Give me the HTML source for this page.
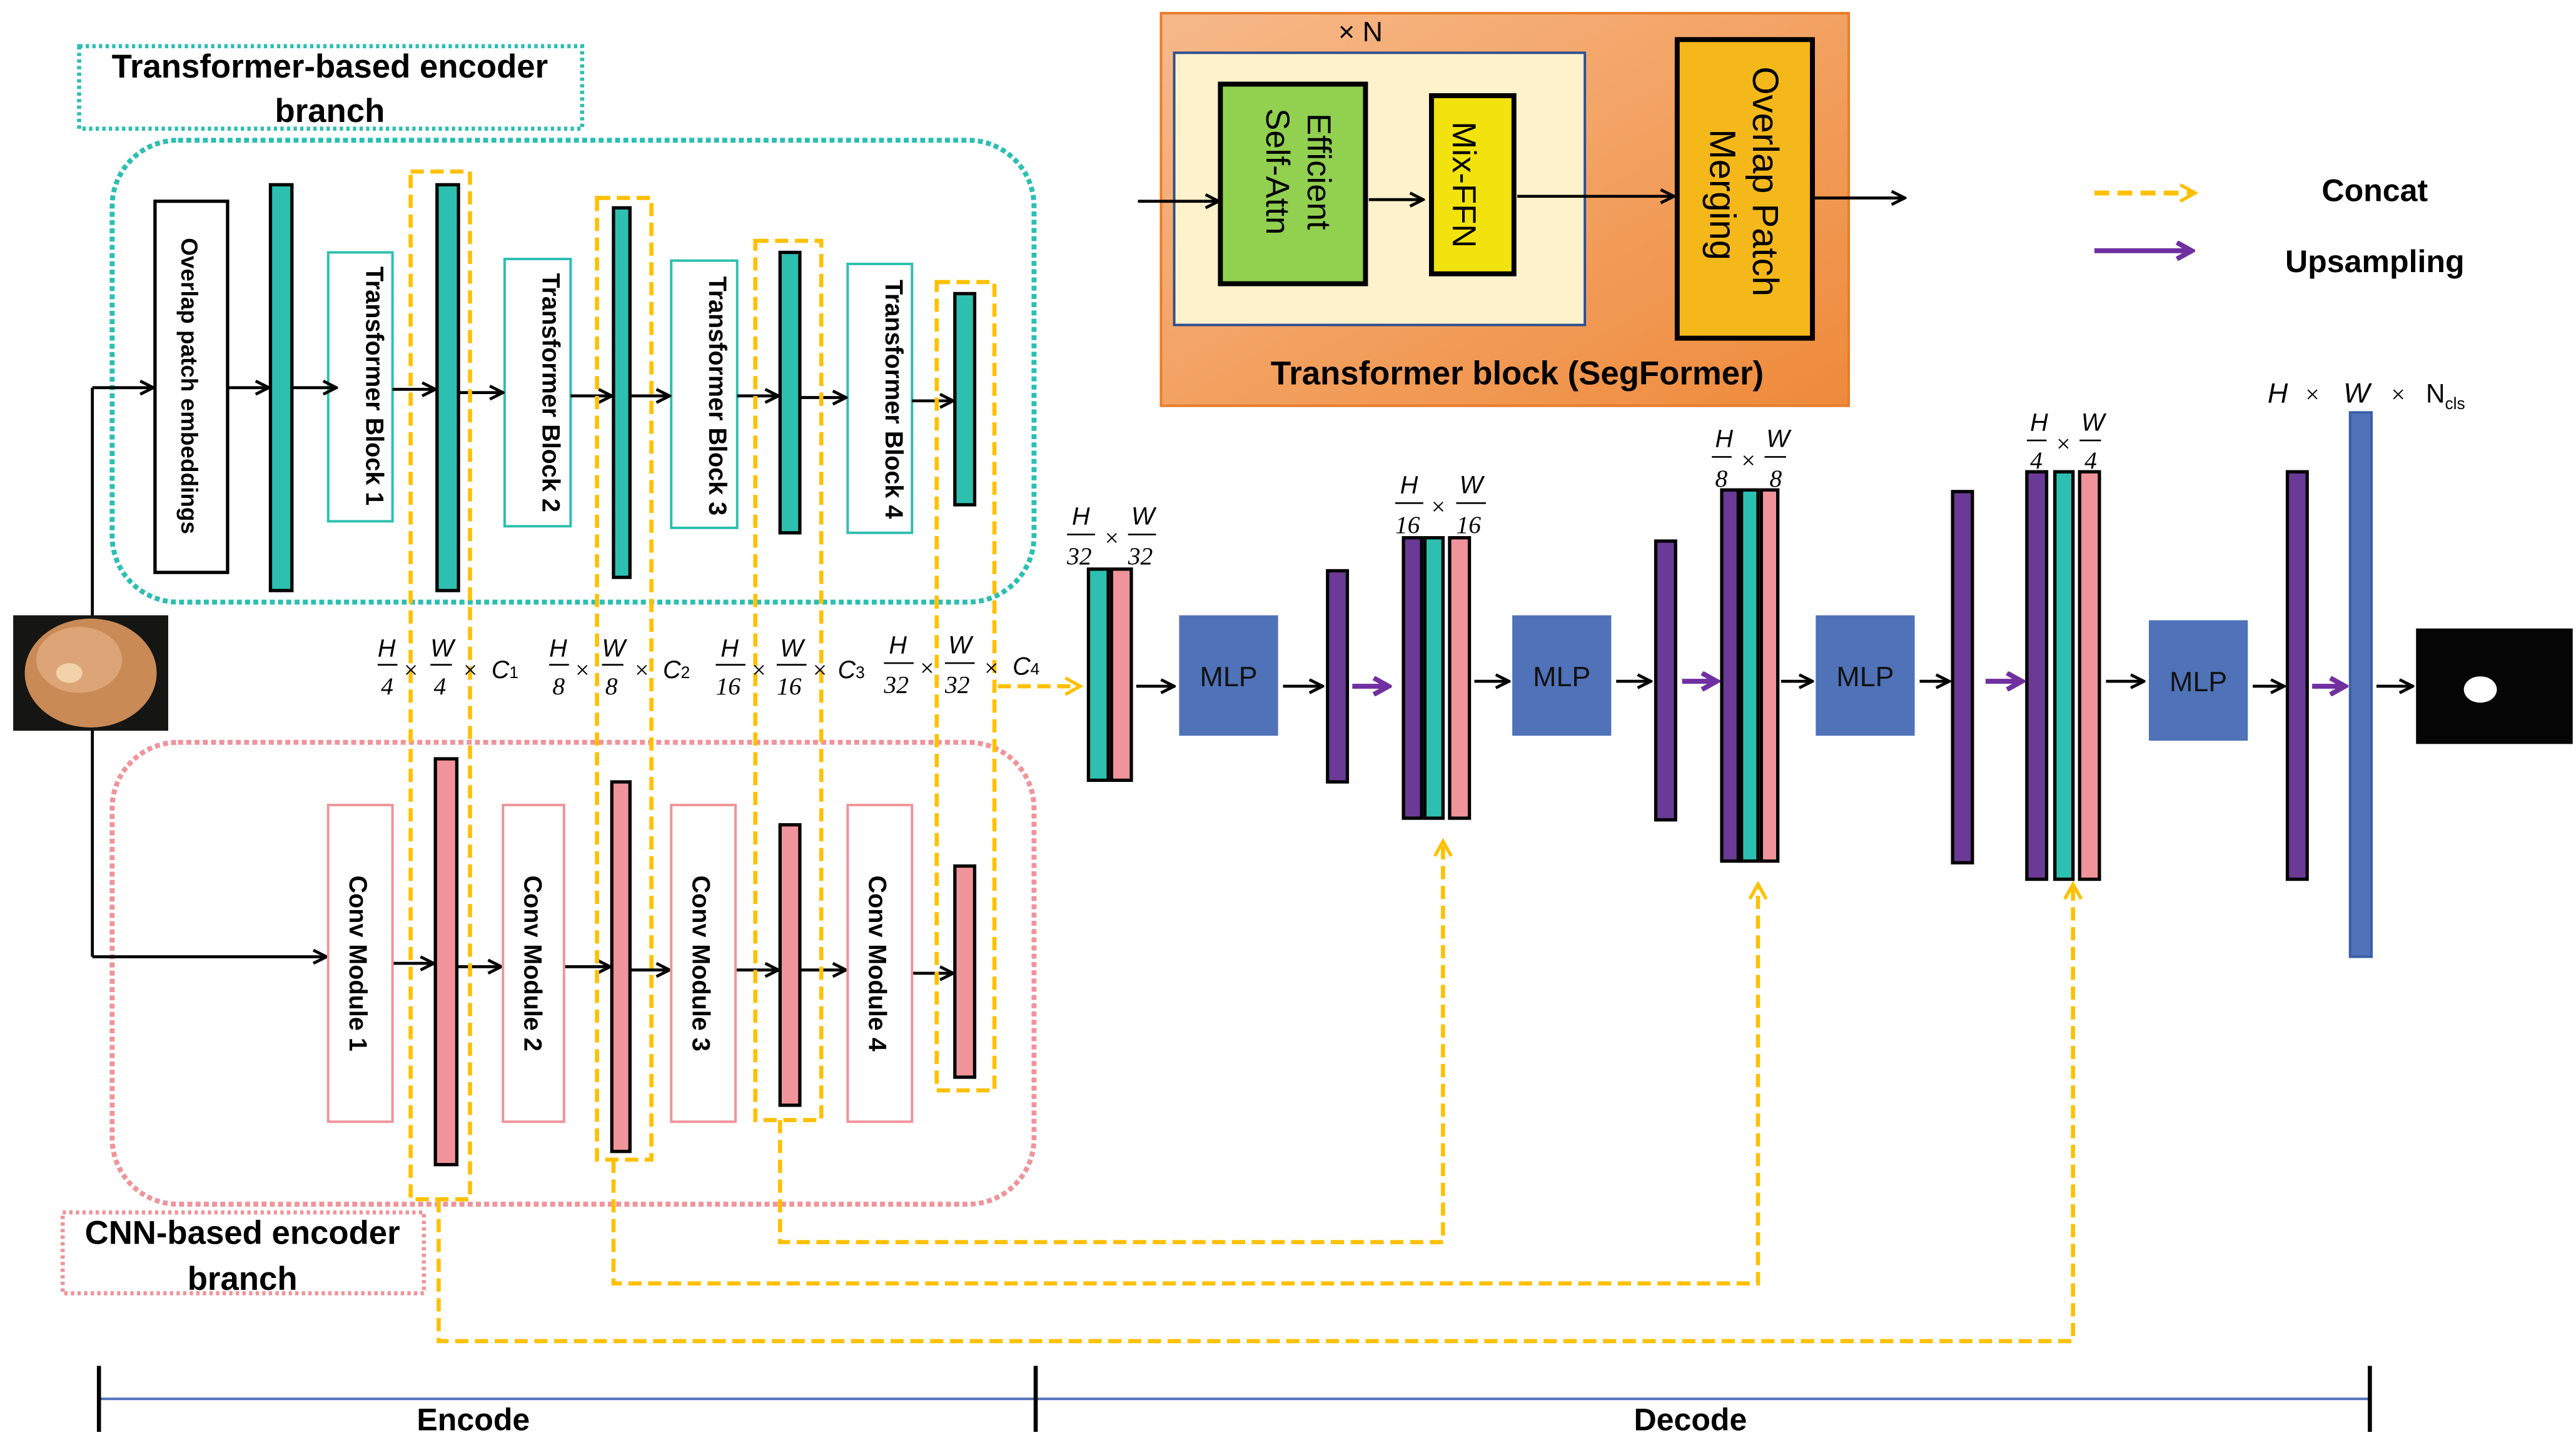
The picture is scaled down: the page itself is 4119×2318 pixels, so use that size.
<!DOCTYPE html>
<html><head><meta charset="utf-8"><style>
html,body{margin:0;padding:0;background:#fff;}
svg{display:block;}
text{font-family:"Liberation Sans",sans-serif;}
.b{font-weight:bold;}
.m{font-family:"Liberation Serif",serif;font-style:italic;font-size:15px;}
.n{font-family:"Liberation Serif",serif;font-size:15px;}
</style></head><body>
<svg width="4119" height="2318" viewBox="0 0 1562 879" preserveAspectRatio="none" xmlns="http://www.w3.org/2000/svg">
<defs>
<marker id="ak" markerWidth="10" markerHeight="10" refX="9" refY="5" orient="auto" markerUnits="userSpaceOnUse"><path d="M1,1 L9,5 L1,9" fill="none" stroke="#000" stroke-width="1.8"/></marker>
<marker id="ay" markerWidth="12" markerHeight="12" refX="10" refY="6" orient="auto" markerUnits="userSpaceOnUse"><path d="M1,1 L10,6 L1,11" fill="none" stroke="#ffc000" stroke-width="2"/></marker>
<marker id="ap" markerWidth="12" markerHeight="12" refX="10" refY="6" orient="auto" markerUnits="userSpaceOnUse"><path d="M1,1 L10,6 L1,11" fill="none" stroke="#7030a0" stroke-width="3"/></marker>
<linearGradient id="og" x1="0" y1="0" x2="1" y2="1"><stop offset="0" stop-color="#f7b98a"/><stop offset="1" stop-color="#ee8a3a"/></linearGradient>
</defs>

<!-- Encoder title -->
<rect x="48" y="28" width="305" height="50" fill="none" stroke="#2bbfb2" stroke-width="2.5" stroke-dasharray="2,2"/>
<text x="200" y="47" font-size="20" class="b" text-anchor="middle">Transformer-based encoder</text>
<text x="200" y="74" font-size="20" class="b" text-anchor="middle">branch</text>

<rect x="68" y="85" width="559" height="280" rx="40" fill="none" stroke="#2bbfb2" stroke-width="3" stroke-dasharray="3,2"/>
<rect x="68" y="450" width="559" height="280" rx="40" fill="none" stroke="#f0939a" stroke-width="3" stroke-dasharray="3,2"/>

<!-- transformer branch -->
<rect x="94" y="122" width="44" height="225" fill="#fff" stroke="#000" stroke-width="2"/>
<text transform="translate(110,234) rotate(90)" font-size="14" class="b" text-anchor="middle">Overlap patch embeddings</text>
<rect x="164" y="112" width="13" height="246" fill="#2dbfb0" stroke="#000" stroke-width="2"/>
<rect x="199" y="153" width="39" height="163" fill="#fff" stroke="#2dbfb0" stroke-width="1.5"/>
<text transform="translate(222,234) rotate(90)" font-size="15" class="b" text-anchor="middle">Transformer Block 1</text>
<rect x="265" y="112" width="13" height="246" fill="#2dbfb0" stroke="#000" stroke-width="2"/>
<rect x="306" y="157" width="40" height="162" fill="#fff" stroke="#2dbfb0" stroke-width="1.5"/>
<text transform="translate(329,238) rotate(90)" font-size="15" class="b" text-anchor="middle">Transformer Block 2</text>
<rect x="372" y="126" width="10" height="224" fill="#2dbfb0" stroke="#000" stroke-width="2"/>
<rect x="407" y="158" width="40" height="162" fill="#fff" stroke="#2dbfb0" stroke-width="1.5"/>
<text transform="translate(430,240) rotate(90)" font-size="15" class="b" text-anchor="middle">Transformer Block 3</text>
<rect x="473" y="153" width="12" height="170" fill="#2dbfb0" stroke="#000" stroke-width="2"/>
<rect x="514" y="160" width="39" height="163" fill="#fff" stroke="#2dbfb0" stroke-width="1.5"/>
<text transform="translate(537,242) rotate(90)" font-size="15" class="b" text-anchor="middle">Transformer Block 4</text>
<rect x="579" y="178" width="12" height="128" fill="#2dbfb0" stroke="#000" stroke-width="2"/>

<g stroke="#000" stroke-width="1.8" marker-end="url(#ak)">
<line x1="56" y1="235" x2="93" y2="235"/>
<line x1="138" y1="235" x2="163" y2="235"/>
<line x1="177" y1="235" x2="204" y2="235"/>
<line x1="238" y1="236" x2="264" y2="236"/>
<line x1="278" y1="238" x2="305" y2="238"/>
<line x1="346" y1="240" x2="371" y2="240"/>
<line x1="382" y1="240" x2="406" y2="240"/>
<line x1="447" y1="240" x2="472" y2="240"/>
<line x1="485" y1="241" x2="513" y2="241"/>
<line x1="553" y1="243" x2="578" y2="243"/>
<line x1="56" y1="580" x2="198" y2="580"/>
<line x1="238" y1="584" x2="263" y2="584"/>
<line x1="277" y1="586" x2="304" y2="586"/>
<line x1="342" y1="586" x2="370" y2="586"/>
<line x1="382" y1="588" x2="406" y2="588"/>
<line x1="446" y1="588" x2="472" y2="588"/>
<line x1="485" y1="588" x2="513" y2="588"/>
<line x1="553" y1="590" x2="578" y2="590"/>
</g>
<line x1="56" y1="235" x2="56" y2="580" stroke="#000" stroke-width="1.8"/>

<!-- input image -->
<rect x="8" y="373" width="94" height="70" fill="#151513"/>
<ellipse cx="55" cy="408" rx="40" ry="33" fill="#c98a55"/>
<ellipse cx="48" cy="400" rx="26" ry="20" fill="#dca477"/>
<ellipse cx="42" cy="408" rx="8" ry="6" fill="#f2d2a8"/>

<!-- CNN branch -->
<rect x="199" y="488" width="39" height="192" fill="#fff" stroke="#f0939a" stroke-width="1.5"/>
<text transform="translate(212,584) rotate(90)" font-size="15" class="b" text-anchor="middle">Conv Module 1</text>
<rect x="264" y="460" width="13" height="246" fill="#f0939a" stroke="#000" stroke-width="2"/>
<rect x="305" y="488" width="37" height="192" fill="#fff" stroke="#f0939a" stroke-width="1.5"/>
<text transform="translate(318,584) rotate(90)" font-size="15" class="b" text-anchor="middle">Conv Module 2</text>
<rect x="371" y="474" width="11" height="224" fill="#f0939a" stroke="#000" stroke-width="2"/>
<rect x="407" y="488" width="39" height="192" fill="#fff" stroke="#f0939a" stroke-width="1.5"/>
<text transform="translate(420,584) rotate(90)" font-size="15" class="b" text-anchor="middle">Conv Module 3</text>
<rect x="473" y="500" width="12" height="170" fill="#f0939a" stroke="#000" stroke-width="2"/>
<rect x="514" y="488" width="39" height="192" fill="#fff" stroke="#f0939a" stroke-width="1.5"/>
<text transform="translate(527,584) rotate(90)" font-size="15" class="b" text-anchor="middle">Conv Module 4</text>
<rect x="579" y="525" width="12" height="128" fill="#f0939a" stroke="#000" stroke-width="2"/>

<rect x="38" y="735" width="219" height="49" fill="none" stroke="#f0939a" stroke-width="2.5" stroke-dasharray="2,2"/>
<text x="147" y="754" font-size="20" class="b" text-anchor="middle">CNN-based encoder</text>
<text x="147" y="782" font-size="20" class="b" text-anchor="middle">branch</text>

<!-- orange dashed boxes -->
<g fill="none" stroke="#ffc000" stroke-width="2.5" stroke-dasharray="8,4">
<rect x="249" y="104" width="36" height="623"/>
<rect x="362" y="120" width="33" height="583"/>
<rect x="458" y="146" width="40" height="533"/>
<rect x="568" y="171" width="35" height="490"/>
<polyline points="473,679 473,753 875,753 875,510" marker-end="url(#ay)"/>
<polyline points="372,703 372,778 1066,778 1066,536" marker-end="url(#ay)"/>
<polyline points="266,727 266,813 1257,813 1257,536" marker-end="url(#ay)"/>
<line x1="605" y1="416" x2="655" y2="416" marker-end="url(#ay)"/>
</g>

<!-- dims labels -->
<g class="m">
<text x="229" y="398">H</text><line x1="229" y1="403" x2="241" y2="403" stroke="#000"/><text x="231" y="421" class="n">4</text><text x="244" y="411" class="n">×</text>
<text x="261" y="398">W</text><line x1="261" y1="403" x2="274" y2="403" stroke="#000"/><text x="263" y="421" class="n">4</text><text x="280" y="411" class="n">×</text><text x="298" y="411">C<tspan font-size="10" font-style="normal">1</tspan></text>
<text x="333" y="398">H</text><line x1="333" y1="403" x2="345" y2="403" stroke="#000"/><text x="335" y="421" class="n">8</text><text x="348" y="411" class="n">×</text>
<text x="365" y="398">W</text><line x1="365" y1="403" x2="378" y2="403" stroke="#000"/><text x="367" y="421" class="n">8</text><text x="384" y="411" class="n">×</text><text x="402" y="411">C<tspan font-size="10" font-style="normal">2</tspan></text>
<text x="437" y="398">H</text><line x1="434" y1="403" x2="452" y2="403" stroke="#000"/><text x="434" y="421" class="n">16</text><text x="455" y="411" class="n">×</text>
<text x="473" y="398">W</text><line x1="471" y1="403" x2="489" y2="403" stroke="#000"/><text x="471" y="421" class="n">16</text><text x="492" y="411" class="n">×</text><text x="508" y="411">C<tspan font-size="10" font-style="normal">3</tspan></text>
<text x="539" y="396">H</text><line x1="536" y1="402" x2="554" y2="402" stroke="#000"/><text x="536" y="420" class="n">32</text><text x="557" y="410" class="n">×</text>
<text x="575" y="396">W</text><line x1="573" y1="402" x2="591" y2="402" stroke="#000"/><text x="573" y="420" class="n">32</text><text x="596" y="410" class="n">×</text><text x="614" y="409">C<tspan font-size="10" font-style="normal">4</tspan></text>
</g>

<!-- decoder -->
<g class="m">
<text x="650" y="318">H</text><line x1="647" y1="324" x2="664" y2="324" stroke="#000"/><text x="647" y="342" class="n">32</text><text x="669" y="331" class="n">×</text>
<text x="686" y="318">W</text><line x1="684" y1="324" x2="701" y2="324" stroke="#000"/><text x="684" y="342" class="n">32</text>
<text x="849" y="299">H</text><line x1="846" y1="305" x2="863" y2="305" stroke="#000"/><text x="846" y="323" class="n">16</text><text x="867" y="312" class="n">×</text>
<text x="885" y="299">W</text><line x1="883" y1="305" x2="901" y2="305" stroke="#000"/><text x="883" y="323" class="n">16</text>
<text x="1040" y="271">H</text><line x1="1038" y1="277" x2="1050" y2="277" stroke="#000"/><text x="1040" y="295" class="n">8</text><text x="1055" y="284" class="n">×</text>
<text x="1071" y="271">W</text><line x1="1070" y1="277" x2="1083" y2="277" stroke="#000"/><text x="1073" y="295" class="n">8</text>
<text x="1231" y="261">H</text><line x1="1229" y1="267" x2="1241" y2="267" stroke="#000"/><text x="1231" y="284" class="n">4</text><text x="1246" y="274" class="n">×</text>
<text x="1262" y="261">W</text><line x1="1261" y1="267" x2="1274" y2="267" stroke="#000"/><text x="1264" y="284" class="n">4</text>
<text x="1375" y="244" font-size="17">H</text><text x="1397" y="244" class="n" font-size="17">×</text><text x="1421" y="244" font-size="17">W</text><text x="1449" y="244" class="n" font-size="17">×</text><text x="1471" y="244" font-size="16" style="font-style:normal;font-family:'Liberation Sans'">N<tspan font-size="10" dy="4">cls</tspan></text>
</g>

<g stroke="#000" stroke-width="2">
<rect x="660" y="345" width="12" height="128" fill="#2dbfb0"/>
<rect x="674" y="345" width="12" height="128" fill="#f0939a"/>
<rect x="805" y="346" width="12" height="128" fill="#6b3a96"/>
<rect x="851" y="326" width="11" height="170" fill="#6b3a96"/>
<rect x="864" y="326" width="11" height="170" fill="#2dbfb0"/>
<rect x="879" y="326" width="12" height="170" fill="#f0939a"/>
<rect x="1004" y="328" width="12" height="169" fill="#6b3a96"/>
<rect x="1044" y="297" width="10" height="225" fill="#6b3a96"/>
<rect x="1056" y="297" width="10" height="225" fill="#2dbfb0"/>
<rect x="1068" y="297" width="10" height="225" fill="#f0939a"/>
<rect x="1184" y="298" width="12" height="225" fill="#6b3a96"/>
<rect x="1229" y="286" width="12" height="247" fill="#6b3a96"/>
<rect x="1246" y="286" width="11" height="247" fill="#2dbfb0"/>
<rect x="1261" y="286" width="12" height="247" fill="#f0939a"/>
<rect x="1387" y="286" width="12" height="247" fill="#6b3a96"/>
</g>
<rect x="1425" y="250" width="13" height="330" fill="#4f72b8" stroke="#3a5fa8" stroke-width="1.5"/>
<g fill="#4f72b8">
<rect x="715" y="373" width="60" height="73"/>
<rect x="917" y="373" width="60" height="73"/>
<rect x="1101" y="373" width="60" height="73"/>
<rect x="1303" y="376" width="60" height="73"/>
</g>
<g font-size="17" text-anchor="middle" fill="#111">
<text x="745" y="416">MLP</text><text x="947" y="416">MLP</text><text x="1131" y="416">MLP</text><text x="1333" y="419">MLP</text>
</g>
<rect x="1465" y="381" width="95" height="70" fill="#050505"/>
<ellipse cx="1504" cy="418" rx="10" ry="8" fill="#fff"/>

<g stroke="#000" stroke-width="1.8" marker-end="url(#ak)">
<line x1="689" y1="416" x2="712" y2="416"/>
<line x1="778" y1="416" x2="802" y2="416"/>
<line x1="894" y1="413" x2="915" y2="413"/>
<line x1="980" y1="413" x2="1001" y2="413"/>
<line x1="1080" y1="413" x2="1099" y2="413"/>
<line x1="1164" y1="413" x2="1182" y2="413"/>
<line x1="1277" y1="413" x2="1300" y2="413"/>
<line x1="1366" y1="416" x2="1385" y2="416"/>
<line x1="1441" y1="416" x2="1463" y2="416"/>
</g>
<g stroke="#7030a0" stroke-width="3" marker-end="url(#ap)">
<line x1="820" y1="416" x2="842" y2="416"/>
<line x1="1020" y1="413" x2="1041" y2="413"/>
<line x1="1204" y1="413" x2="1226" y2="413"/>
<line x1="1402" y1="416" x2="1422" y2="416"/>
</g>

<!-- Transformer block inset -->
<rect x="704" y="8" width="417" height="238" fill="url(#og)" stroke="#e87c2a" stroke-width="1.5"/>
<rect x="712" y="32" width="249" height="165" fill="#fdf2cc" stroke="#2f4f8f" stroke-width="1.5"/>
<text x="825" y="25" font-size="17" text-anchor="middle">× N</text>
<rect x="740" y="51" width="88" height="121" fill="#92d050" stroke="#000" stroke-width="3"/>
<text transform="translate(793,104) rotate(90)" font-size="20" text-anchor="middle">Efficient</text>
<text transform="translate(768,104) rotate(90)" font-size="20" text-anchor="middle">Self-Attn</text>
<rect x="868" y="58" width="50" height="108" fill="#f2e30e" stroke="#000" stroke-width="3"/>
<text transform="translate(881,112) rotate(90)" font-size="20" text-anchor="middle">Mix-FFN</text>
<rect x="1017" y="24" width="82" height="181" fill="#f5b81a" stroke="#000" stroke-width="3"/>
<text transform="translate(1063,110) rotate(90)" font-size="22" text-anchor="middle">Overlap Patch</text>
<text transform="translate(1037,118) rotate(90)" font-size="22" text-anchor="middle">Merging</text>
<g stroke="#000" stroke-width="1.8" marker-end="url(#ak)">
<line x1="690" y1="122" x2="739" y2="122"/>
<line x1="830" y1="121" x2="863" y2="121"/>
<line x1="920" y1="119" x2="1015" y2="119"/>
<line x1="1100" y1="120" x2="1155" y2="120"/>
</g>
<text x="920" y="233" font-size="20" class="b" text-anchor="middle">Transformer block (SegFormer)</text>

<!-- legend -->
<line x1="1270" y1="117" x2="1331" y2="117" stroke="#ffc000" stroke-width="3" stroke-dasharray="9,5" marker-end="url(#ay)"/>
<line x1="1270" y1="152" x2="1329" y2="152" stroke="#7030a0" stroke-width="3" marker-end="url(#ap)"/>
<text x="1440" y="122" font-size="19" class="b" text-anchor="middle">Concat</text>
<text x="1440" y="165" font-size="19" class="b" text-anchor="middle">Upsampling</text>

<!-- bottom -->
<line x1="60" y1="848" x2="1437" y2="848" stroke="#4f72b8" stroke-width="1.5"/>
<g stroke="#000" stroke-width="2.5">
<line x1="60" y1="828" x2="60" y2="868"/><line x1="628" y1="828" x2="628" y2="868"/><line x1="1437" y1="828" x2="1437" y2="868"/>
</g>
<text x="287" y="867" font-size="19" class="b" text-anchor="middle">Encode</text>
<text x="1025" y="867" font-size="19" class="b" text-anchor="middle">Decode</text>
</svg>
</body></html>
